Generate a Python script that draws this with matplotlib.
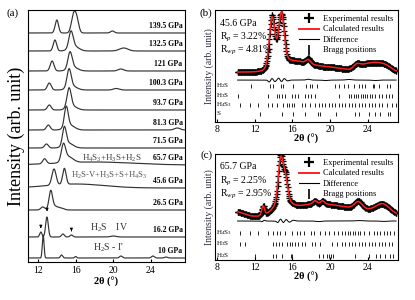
import numpy as np
import matplotlib
matplotlib.use('Agg')
import matplotlib.pyplot as plt
from matplotlib.lines import Line2D

plt.rcParams['font.family'] = ['Liberation Serif', 'DejaVu Serif']
plt.rcParams['mathtext.fontset'] = 'custom'
plt.rcParams['mathtext.rm'] = 'Liberation Serif'
plt.rcParams['mathtext.it'] = 'Liberation Serif:italic'

# ---------------- panel (a): stacked patterns ----------------
pressures = ['139.5 GPa', '132.5 GPa', '121 GPa', '100.3 GPa', '93.7 GPa', '81.3 GPa',
             '71.5 GPa', '65.7 GPa', '45.6 GPa', '26.5 GPa', '16.2 GPa', '10 GPa']
offsets = [229, 211, 191, 172, 152, 132, 114, 97, 74, 52, 25, 4]
# peaks as (2theta, height, width)
peaks_a = [
    [(14.0, 13, 0.18), (15.75, 16, 0.22), (16.1, 14, 0.22), (19.9, 2, 0.2)],
    [(13.8, 11, 0.18), (15.5, 16, 0.22), (15.8, 5, 0.5), (21.1, 3, 0.45)],
    [(13.5, 10, 0.2), (15.4, 16, 0.22), (15.7, 4, 0.5), (20.8, 2, 0.3)],
    [(13.2, 7, 0.2), (15.3, 18, 0.22), (15.6, 4, 0.5), (20.3, 1.5, 0.3)],
    [(13.2, 5, 0.2), (15.3, 19, 0.22), (15.6, 4, 0.5)],
    [(13.1, 5, 0.2), (15.0, 20, 0.2), (15.35, 5, 0.5), (26.8, 2, 0.3)],
    [(12.9, 4, 0.2), (14.8, 18, 0.2), (15.2, 5, 0.5)],
    [(12.7, 5, 0.2), (14.7, 16, 0.22), (15.2, 6, 0.5), (18.0, 3, 4.0)],
    [(13.7, 16, 0.22), (14.8, 16, 0.18), (16.0, 4, 3.0)],
    [(12.5, 3, 0.2), (13.35, 17, 0.18), (13.7, 4, 0.4), (14.5, 1.5, 0.3)],
    [(12.3, 5, 0.12), (12.95, 20, 0.14), (14.65, 3, 0.15), (15.55, 2, 0.15), (20.0, 1, 0.3)],
    [(12.55, 23, 0.09), (14.5, 3, 0.12), (16.0, 1.5, 0.1), (20.8, 2, 0.15),
     (24.2, 2, 0.15), (25.6, 1, 0.15)],
]

# ---------------- panel (b): 45.6 GPa refinement ----------------
bg_b = 50
peaks_b = [(13.85, 44, 0.28), (14.85, 44, 0.28), (14.4, 10, 0.7), (16.0, 10, 1.5),
           (17.7, 4, 0.25), (19.5, 5, 2.0), (22.8, 5, 0.35), (23.5, 3, 0.5),
           (24.7, 9, 0.9), (26.0, 4, 0.6)]
diff_b = [(13.55, -2.5, 0.12), (13.85, 2, 0.12), (14.15, -2, 0.12), (14.55, 2.5, 0.12),
          (14.85, -2, 0.12), (15.15, 2, 0.12), (15.5, -1, 0.15), (17.7, 1, 0.2),
          (19.5, -0.6, 0.3), (22.0, 0.7, 0.3), (24.7, -0.6, 0.3)]
bragg_b = {
    'H$_2$S': [11.6, 13.6, 13.9, 14.8, 15.05, 16.1, 17.5, 17.9, 18.1, 18.6, 20.55, 20.9,
               21.5, 21.9, 22.5, 23.1, 23.4, 23.7, 24.5, 24.7, 25.2, 26.05, 26.4],
    'H$_3$S': [10.27, 13.4, 14.35, 14.6, 14.95, 15.2, 16.0, 16.3, 16.65, 17.35, 17.7, 18.0,
               18.4, 20.9, 21.97, 22.25, 22.5, 22.75, 23.0, 23.25, 23.46, 23.7, 23.9,
               24.2, 24.45, 24.8, 25.2, 25.5, 25.9, 26.2, 26.6],
    'H$_4$S$_3$': [10.45, 11.51, 12.4, 13.46, 13.82, 14.35, 15.06, 15.41, 15.66, 15.94,
                   16.23, 17.01, 17.36, 17.89, 18.42, 18.78, 19.13, 19.42, 19.84, 20.2,
                   20.55, 20.91, 21.26, 21.62, 21.97, 22.33, 22.68, 23.04, 23.39, 23.67,
                   24.1, 24.45, 24.81, 25.16, 25.52, 26.05, 26.58, 26.94],
    'S': [12.57, 14.88, 16.12, 17.36, 18.71, 18.96, 20.62, 22.68, 23.11, 24.1, 24.81,
          25.34, 26.16, 26.33],
}
rows_b = [36, 26, 17, 8]

# ---------------- panel (c): 65.7 GPa refinement ----------------
bg_c = 42
peaks_c = [(10.0, 6, 0.9), (12.9, 9, 0.15), (14.75, 40, 0.25), (15.25, 22, 0.25),
           (14.9, 12, 0.8), (18.5, 14, 3.0), (18.4, 3, 0.2), (19.2, 3, 0.2),
           (24.5, 6, 2.5), (23.0, 7, 0.4), (25.6, 8, 0.7)]
diff_c = [(12.8, -1, 0.1), (13.0, 1, 0.1), (14.45, -2, 0.12), (14.75, 2.5, 0.12),
          (15.05, -2, 0.12), (15.35, 2, 0.12), (15.7, -1.5, 0.15), (16.1, 1, 0.15),
          (18.8, -0.7, 0.3), (23.0, 0.6, 0.3), (25.6, -0.6, 0.3)]
bragg_c = {
    'H$_4$S$_3$': [10.45, 11.51, 12.4, 13.46, 13.99, 14.35, 14.7, 15.23, 16.01, 16.47,
                   16.83, 17.29, 18.0, 18.35, 18.96, 19.42, 19.84, 20.38, 20.84, 21.26,
                   21.62, 21.9, 22.15, 22.4, 22.68, 22.96, 23.21, 23.57, 24.1, 24.63,
                   24.99, 25.34, 25.69, 26.05, 26.4, 26.76],
    'H$_3$S': [10.45, 10.98, 13.99, 14.24, 14.6, 14.95, 15.41, 15.77, 16.01, 16.3, 16.65,
               17.01, 17.36, 18.07, 18.42, 18.96, 20.2, 20.73, 21.26, 21.62, 21.97, 22.33,
               22.68, 23.04, 23.39, 23.74, 24.1, 24.45, 24.81, 25.16, 25.52, 25.87,
               26.23, 26.58],
    'H$_2$S': [12.04, 13.99, 14.24, 14.88, 15.87, 16.01, 18.78, 19.21, 19.67, 19.91,
               20.13, 20.27, 22.61, 24.1, 24.88, 25.34, 25.87, 26.4, 26.65],
}
rows_c = [27, 16, 4]


def profile(x, peaks):
    y = np.zeros_like(x)
    for c, h, s in peaks:
        y += h * np.exp(-0.5 * ((x - c) / s) ** 2)
    return y


fig = plt.figure(figsize=(4.15, 3.0), dpi=100)
ax_a = fig.add_axes([0.0675, 0.1267, 0.378, 0.84])
ax_b = fig.add_axes([0.518, 0.593, 0.441, 0.3737])
ax_c = fig.add_axes([0.518, 0.1333, 0.441, 0.3534])

# ---- (a)
xa = np.linspace(10.95, 27.55, 1500)
for lab, off, pk in zip(pressures, offsets, peaks_a):
    ax_a.plot(xa, off + profile(xa, pk), color='#333333', lw=0.85)
    ax_a.text(27.35, off + 2.5, lab, ha='right', va='bottom', fontsize=5.5,
              fontweight='bold')
ax_a.set_xlim(10.94, 27.6)
ax_a.set_ylim(0, 252)
ax_a.set_xticks([12, 16, 20, 24])
ax_a.set_yticks([])
ax_a.tick_params(axis='x', direction='in', labelsize=7, length=2.5, pad=3)
ax_a.set_xlabel('2θ (°)', fontsize=7.5, fontweight='bold', labelpad=1)
ax_a.set_ylabel('Intensity (arb. unit)', fontsize=13, labelpad=2)
ax_a.text(19.8, 104, 'H$_4$S$_3$+H$_3$S+H$_2$S', ha='center', va='center',
          fontsize=6.5, color='#444444')
ax_a.text(19.55, 87, 'H$_2$S-V+H$_3$S+S+H$_4$S$_3$', ha='center', va='center',
          fontsize=6.2, color='#555555')
ax_a.text(19.55, 34, 'H$_2$S    IV', ha='center', va='center', fontsize=7, color='#333333')
ax_a.text(19.45, 14, "H$_2$S - I'", ha='center', va='center', fontsize=7, color='#333333')
for xp, y0, y1 in [(12.3, 38, 31), (12.96, 55, 48), (15.55, 34, 28)]:
    ax_a.annotate('', xy=(xp, y1), xytext=(xp, y0),
                  arrowprops=dict(arrowstyle='-|>', lw=0.6, color='k',
                                  mutation_scale=4))
fig.text(0.03, 0.955, '(a)', fontsize=8, ha='center', va='center')


# ---- (b) and (c)
def refinement(ax, bg, peaks, diff, doff, bragg, rows, title, rp, rwp, ylim):
    x = np.arange(10.2, 27.05, 0.045)
    calc = bg + profile(x, peaks)
    obs = calc + profile(x, diff)
    ax.plot(x, obs, ls='none', marker='+', ms=4, mew=0.9, color='k')
    ax.plot(x, calc, color='#ff2020', lw=1.1)
    xd = np.linspace(10.2, 27.0, 800)
    ax.plot(xd, doff + profile(xd, diff) * 0.8, color='k', lw=0.7)
    for (name, pos), r in zip(bragg.items(), rows):
        ax.vlines(pos, r - 1.8, r + 1.8, color='k', lw=0.6)
        ax.text(7.95, r + 0.5, name, ha='left', va='center', fontsize=5)
    ax.set_xlim(7.8, 27.2)
    ax.set_ylim(*ylim)
    ax.set_xticks([8, 12, 16, 20, 24])
    ax.set_yticks([])
    ax.tick_params(axis='x', direction='in', labelsize=7, length=2.5, pad=2)
    ax.set_xlabel('2θ (°)', fontsize=7.5, fontweight='bold', labelpad=0)
    ax.set_ylabel('Intensity (arb. unit)', fontsize=7, labelpad=1, color='#333344')
    top = ylim[1]
    ax.text(8.3, top - 13, title, fontsize=7, va='center')
    ax.text(8.3, top - 27, 'R$_p$ = ' + rp, fontsize=7, va='center')
    ax.text(8.3, top - 40, 'R$_{wp}$ = ' + rwp, fontsize=7, va='center')
    handles = [Line2D([], [], ls='none', marker='+', ms=7, mew=1.6, color='k'),
               Line2D([], [], color='#ff2020', lw=1.4),
               Line2D([], [], color='k', lw=0.8),
               Line2D([], [], ls='none', marker='|', ms=7, mew=1.2, color='k')]
    labels = ['Experimental results', 'Calculated results', 'Difference', 'Bragg positions']
    ax.legend(handles, labels, loc='upper right', frameon=False, fontsize=6,
              handlelength=2.4, handletextpad=0.5, labelspacing=0.3,
              borderaxespad=0.2, bbox_to_anchor=(1.0, 1.0))


refinement(ax_b, bg_b, peaks_b, diff_b, 42, bragg_b, rows_b, '45.6 GPa', '3.22%', '4.81%',
           (0, 112))
refinement(ax_c, bg_c, peaks_c, diff_c, 39, bragg_c, rows_c, '65.7 GPa', '2.25%', '2.95%',
           (0, 106))
fig.text(0.497, 0.955, '(b)', fontsize=8, ha='center', va='center')
fig.text(0.497, 0.483, '(c)', fontsize=8, ha='center', va='center')

fig.savefig('out.png', dpi=100)
